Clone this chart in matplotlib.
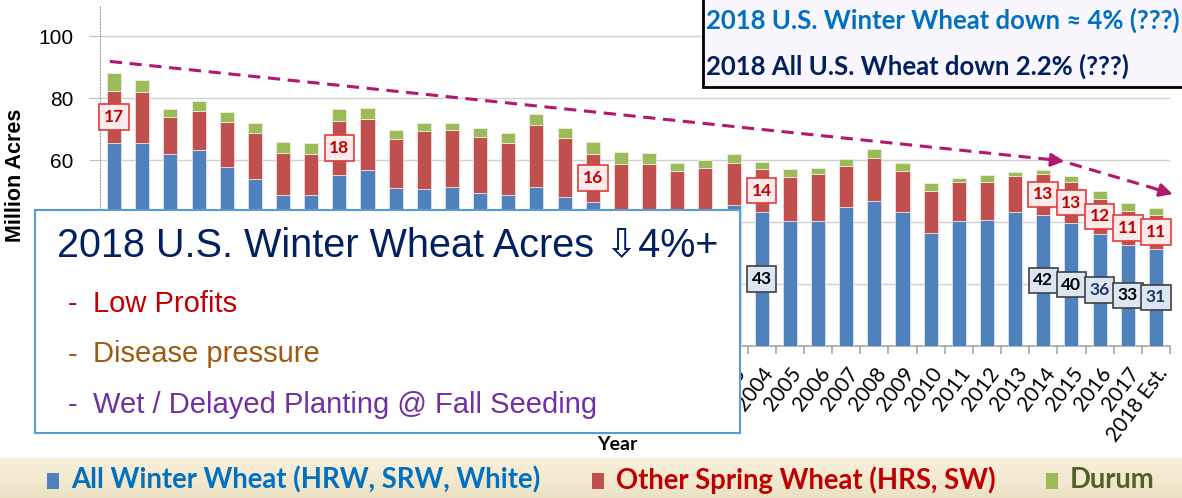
import numpy as np
import matplotlib
matplotlib.use('Agg')
import matplotlib.pyplot as plt
from matplotlib.patches import Rectangle
from matplotlib import font_manager

# Datos (millones de acres)
years = [str(y) for y in range(1981, 2018)] + ["2018 Est."]
winter = [65.4, 65.4, 62.0, 63.2, 57.6, 53.9, 48.6, 48.6, 55.1, 56.8,
          51.1, 50.7, 51.4, 49.2, 48.6, 51.4, 48.0, 46.5, 43.3, 43.4,
          41.1, 41.8, 45.5, 43.3, 40.4, 40.4, 44.8, 46.7, 43.3, 36.3,
          40.4, 40.8, 43.3, 42.3, 39.6, 36.2, 32.6, 31.3]
spring = [16.9, 16.5, 11.9, 12.5, 14.7, 14.9, 13.7, 13.4, 17.5, 16.4,
          15.6, 18.7, 18.4, 18.1, 16.8, 19.9, 19.0, 15.4, 15.3, 15.2,
          15.4, 15.5, 13.6, 13.7, 14.0, 15.1, 13.4, 13.9, 13.0, 13.8,
          12.5, 12.2, 11.5, 13.2, 13.3, 11.3, 10.9, 11.0]
durum = [5.9, 4.0, 2.6, 3.4, 3.1, 3.1, 3.4, 3.4, 3.7, 3.7,
         3.1, 2.5, 2.1, 2.9, 3.4, 3.7, 3.3, 3.8, 4.0, 3.7,
         2.6, 2.7, 2.8, 2.4, 2.6, 1.8, 2.1, 2.9, 2.6, 2.5,
         1.3, 2.2, 1.2, 1.3, 1.9, 2.6, 2.6, 2.2]

spring_label_years = ["1981", "1989", "1998", "2004", "2014", "2015", "2016", "2017", "2018 Est."]
spring_label_vals = [17, 18, 16, 14, 13, 13, 12, 11, 11]
winter_label_years = ["2004", "2014", "2015", "2016", "2017", "2018 Est."]
winter_label_vals = [43, 42, 40, 36, 33, 31]
winter_label_colors = ["black", "black", "black", "#1f3864", "black", "#1f3864"]

yticks = [0, 20, 40, 60, 80, 100]
ytick_labels = ["", "", "", "60", "80", "100"]  # las demás quedan bajo el cuadro

W, H = 1182, 498
fig = plt.figure(figsize=(W / 100, H / 100), dpi=100)
fig.patch.set_facecolor('white')

def fx(px):
    return px / W

def fy(py):
    return 1 - py / H

installed = {f.name for f in font_manager.fontManager.ttflist}
narrow_name = 'Liberation Sans Narrow' if 'Liberation Sans Narrow' in installed else 'Liberation Sans'
narrow = [narrow_name, 'DejaVu Sans']

ax = fig.add_axes([fx(100), fy(346), fx(1170) - fx(100), fy(5) - fy(346)])
x = np.arange(len(years))
winter = np.array(winter)
spring = np.array(spring)
durum = np.array(durum)

c_blue, c_red, c_green = '#4f81bd', '#c0504d', '#9bbb59'
ax.bar(x, winter, 0.5, color=c_blue, edgecolor='#dbe5f1', linewidth=0.6, zorder=3)
ax.bar(x, spring, 0.5, bottom=winter, color=c_red, edgecolor='#f2dcdb', linewidth=0.6, zorder=3)
ax.bar(x, durum, 0.5, bottom=winter + spring, color=c_green, edgecolor='#ebf1de', linewidth=0.6, zorder=3)

ax.set_xlim(-0.5, len(years) - 0.5)
ax.set_ylim(0, 110)
ax.set_yticks(yticks)
ax.set_yticklabels(ytick_labels, fontfamily='Liberation Sans')
ax.grid(axis='y', color='#d0d0d0', linewidth=1, zorder=0)
ax.set_axisbelow(True)
for s in ['top', 'right']:
    ax.spines[s].set_visible(False)
ax.spines['left'].set_linestyle(':')
ax.spines['left'].set_color('#a0a0a0')
ax.spines['bottom'].set_color('#a6a6a6')
ax.spines['bottom'].set_linewidth(1.2)
ax.tick_params(axis='y', length=8, color='#bfbfbf', labelsize=15, pad=11)

ax.set_xticks(x)
ax.set_xticklabels(years, rotation=53, ha='right', va='top', rotation_mode='anchor',
                   fontsize=15, fontfamily='Lato')
ax.tick_params(axis='x', which='major', length=0, pad=13)
ax.set_xticks(np.arange(-0.5, len(years), 1), minor=True)
ax.tick_params(axis='x', which='minor', length=6, color='#a6a6a6', width=1.2)

ax.set_ylabel('Million Acres', fontsize=15.5, fontweight='bold', fontfamily='Liberation Sans')
ax.yaxis.set_label_coords((26 - 100) / 1070, 0.5)
ax.set_xlabel('Year', fontsize=14, fontweight='bold', fontfamily='Lato')
ax.xaxis.set_label_coords((617 - 100) / 1070, -0.265)

# etiquetas de valores
for yr, v in zip(spring_label_years, spring_label_vals):
    i = years.index(yr)
    ax.text(i, winter[i] + spring[i] / 2, str(v), ha='center', va='center', fontsize=12.5,
            fontweight='bold', color='#c00000', zorder=5, fontfamily='Lato',
            bbox=dict(boxstyle='square,pad=0.27', fc='#fdeaea', ec='#e03c3c', lw=1.2))
for yr, v, c in zip(winter_label_years, winter_label_vals, winter_label_colors):
    i = years.index(yr)
    ax.text(i, winter[i] / 2, str(v), ha='center', va='center', fontsize=12.5,
            fontweight='bold', color=c, zorder=5, fontfamily='Lato',
            bbox=dict(boxstyle='square,pad=0.27', fc='#dce6f2', ec='#404040', lw=1.2))

# linea de tendencia
trend = '#b3176f'
ax.plot([-0.15, 33.4], [91.8, 60.0], ls=(0, (4, 2.5)), color=trend, lw=2.2, zorder=6, clip_on=False)
ax.annotate('', xy=(33.75, 59.6), xytext=(33.2, 60.1), annotation_clip=False,
            arrowprops=dict(arrowstyle='-|>', color=trend, lw=2, mutation_scale=20,
                            shrinkA=0, shrinkB=0), zorder=6)
ax.plot([33.95, 37.1], [58.9, 50.4], ls=(0, (4, 2.5)), color=trend, lw=2.2, zorder=6, clip_on=False)
ax.annotate('', xy=(37.6, 49.0), xytext=(37.0, 50.6), annotation_clip=False,
            arrowprops=dict(arrowstyle='-|>', color=trend, lw=2, mutation_scale=20,
                            shrinkA=0, shrinkB=0), zorder=6)

# cuadro superior derecho
fig.patches.append(Rectangle((fx(703), fy(87)), fx(W + 5) - fx(703), fy(-5) - fy(87),
                             transform=fig.transFigure, fc='#f9f7fd', ec='black', lw=2, zorder=10))
fig.text(fx(706), fy(20), '2018 U.S. Winter Wheat down \u2248 4% (???)', fontsize=18.5,
         fontweight='bold', color='#0070c0', va='center', fontfamily='Lato', zorder=11)
fig.text(fx(706), fy(66), '2018 All U.S. Wheat down 2.2% (???)', fontsize=18.5,
         fontweight='bold', color='#002060', va='center', fontfamily='Lato', zorder=11)

# cuadro izquierdo
fig.patches.append(Rectangle((fx(35), fy(433)), fx(740) - fx(35), fy(210) - fy(433),
                             transform=fig.transFigure, fc='white', ec='#5b9bd5', lw=1.5, zorder=10))
fig.text(fx(57), fy(245), '2018 U.S. Winter Wheat Acres \u21e94%+', fontsize=28.5,
         color='#002060', va='center', fontfamily=narrow, zorder=11)
bullets = ['Low Profits', 'Disease pressure', 'Wet / Delayed Planting @ Fall Seeding']
bullet_colors = ['#c00000', '#9c5a12', '#7030a0']
for k, (b, c) in enumerate(zip(bullets, bullet_colors)):
    yy = 304 + k * 50.5
    fig.text(fx(68), fy(yy), '-', fontsize=21, color=c, va='center', fontfamily=narrow, zorder=11)
    fig.text(fx(93), fy(yy), b, fontsize=21, color=c, va='center', fontfamily=narrow, zorder=11)

# leyenda inferior con fondo degradado
lax = fig.add_axes([0, 0, 1, fy(458)], zorder=-1)
grad = np.linspace(0, 1, 50).reshape(-1, 1)
lax.imshow(grad, aspect='auto', extent=[0, 1, 0, 1], origin='upper',
           cmap=matplotlib.colors.LinearSegmentedColormap.from_list('g', ['#fbf1dc', '#ebe2c5']))
lax.set_axis_off()

legend_names = ['All Winter Wheat (HRW, SRW, White)', 'Other Spring Wheat (HRS, SW)', 'Durum']
legend_colors = [c_blue, c_red, c_green]
legend_text_colors = ['#0070c0', '#c00000', '#4f6228']
legend_x = [47, 592, 1046]
for n, c, tc, lx in zip(legend_names, legend_colors, legend_text_colors, legend_x):
    fig.patches.append(Rectangle((fx(lx), fy(489)), fx(12), 16 / H, transform=fig.transFigure,
                                 fc=c, ec='none', zorder=10))
    fig.text(fx(lx + 24), fy(480), n, fontsize=19.8, fontweight='bold', color=tc,
             va='center', fontfamily='Lato', zorder=11)

fig.savefig('out.png', dpi=100)
